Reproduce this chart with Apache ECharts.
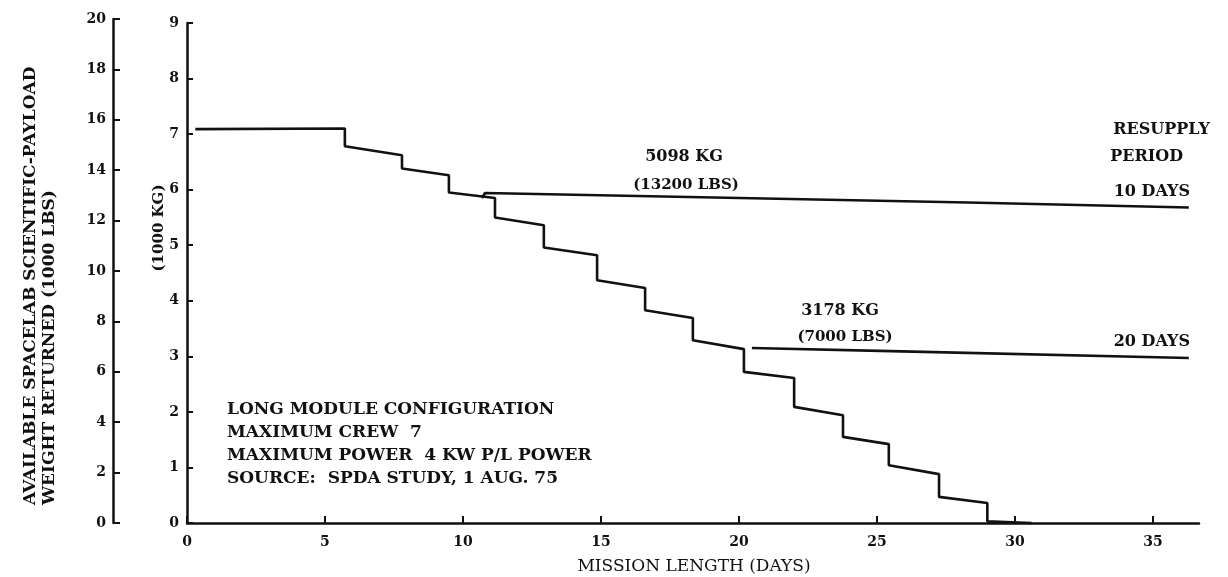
<!DOCTYPE html>
<html>
<head>
<meta charset="utf-8">
<script src="https://cdn.jsdelivr.net/npm/echarts@6/dist/echarts.min.js"></script>
<style>
html,body{margin:0;padding:0;background:#fff;}
#chart{width:1228px;height:577px;}
</style>
</head>
<body>
<div id="chart"></div>
<script>
// ---- data (mission length in days, available weight in 1000 kg) ----
const xTicks = [0, 5, 10, 15, 20, 25, 30, 35];
const kgTicks = [0, 1, 2, 3, 4, 5, 6, 7, 8, 9];
const lbsTicks = [0, 2, 4, 6, 8, 10, 12, 14, 16, 18, 20];

const stepDays = [0.3, 5.72, 5.72, 7.79, 7.79, 9.49, 9.49, 11.16, 11.16, 12.93, 12.93, 14.86, 14.86, 16.6, 16.6, 18.33, 18.33, 20.18, 20.18, 22.0, 22.0, 23.77, 23.77, 25.43, 25.43, 27.25, 27.25, 29.0, 29.0, 30.6];
const stepKg   = [7.09, 7.1, 6.78, 6.62, 6.38, 6.26, 5.95, 5.85, 5.50, 5.36, 4.96, 4.82, 4.37, 4.23, 3.83, 3.69, 3.29, 3.13, 2.72, 2.61, 2.09, 1.94, 1.55, 1.42, 1.04, 0.88, 0.47, 0.36, 0.03, 0.0];

const tenDayDays = [10.69, 10.8, 28.3, 36.3];
const tenDayKg   = [5.85, 5.94, 5.77, 5.68];

const twentyDayDays = [20.47, 25.9, 36.3];
const twentyDayKg   = [3.15, 3.09, 2.97];

const notes = ['LONG MODULE CONFIGURATION', 'MAXIMUM CREW  7', 'MAXIMUM POWER  4 KW P/L POWER', 'SOURCE:  SPDA STUDY, 1 AUG. 75'];

function pairs(xs, ys) { return xs.map((x, i) => [x, ys[i]]); }

const ink = '#111';
const serif = '"DejaVu Serif", "Liberation Serif", serif';

const chart = echarts.init(document.getElementById('chart'));
chart.setOption({
  animation: false,
  backgroundColor: '#fff',
  grid: [
    { left: 187, right: 29, top: 23, bottom: 54 },
    { left: 113, width: 1, top: 19, bottom: 54 }
  ],
  xAxis: [
    {
      gridIndex: 0, type: 'value', min: 0, max: 36.67,
      axisLine: { show: true, lineStyle: { color: ink, width: 2.5 } },
      axisTick: { show: true, inside: true, length: 7, lineStyle: { color: ink, width: 2 }, customValues: xTicks },
      axisLabel: { color: ink, fontFamily: serif, fontWeight: 'bold', fontSize: 14, margin: 12, customValues: xTicks },
      splitLine: { show: false }
    },
    { gridIndex: 1, type: 'value', min: 0, max: 1, show: false }
  ],
  yAxis: [
    {
      gridIndex: 0, type: 'value', min: 0, max: 9, interval: 1,
      axisLine: { show: true, lineStyle: { color: ink, width: 2.5 } },
      axisTick: { show: true, inside: true, length: 6, lineStyle: { color: ink, width: 2 }, customValues: kgTicks },
      axisLabel: { color: ink, fontFamily: serif, fontWeight: 'bold', fontSize: 14, margin: 8, customValues: kgTicks },
      splitLine: { show: false }
    },
    {
      gridIndex: 1, type: 'value', min: 0, max: 20, interval: 2,
      axisLine: { show: true, lineStyle: { color: ink, width: 2.5 } },
      axisTick: { show: true, inside: true, length: 7, lineStyle: { color: ink, width: 2 } },
      axisLabel: { color: ink, fontFamily: serif, fontWeight: 'bold', fontSize: 14, margin: 7 },
      splitLine: { show: false }
    }
  ],
  series: [
    {
      type: 'line', xAxisIndex: 0, yAxisIndex: 0, data: pairs(stepDays, stepKg),
      symbol: 'none', lineStyle: { color: ink, width: 2.6 }, clip: false
    },
    {
      type: 'line', xAxisIndex: 0, yAxisIndex: 0, data: pairs(tenDayDays, tenDayKg),
      symbol: 'none', lineStyle: { color: ink, width: 2.6 }
    },
    {
      type: 'line', xAxisIndex: 0, yAxisIndex: 0, data: pairs(twentyDayDays, twentyDayKg),
      symbol: 'none', lineStyle: { color: ink, width: 2.6 }
    }
  ],
  graphic: [
    { type: 'text', x: 31, y: 505, rotation: Math.PI / 2, style: { text: 'AVAILABLE SPACELAB SCIENTIFIC-PAYLOAD', font: 'bold 17px ' + serif, fill: ink, align: 'left', verticalAlign: 'middle' } },
    { type: 'text', x: 50, y: 505, rotation: Math.PI / 2, style: { text: 'WEIGHT RETURNED (1000 LBS)', font: 'bold 17px ' + serif, fill: ink, align: 'left', verticalAlign: 'middle' } },
    { type: 'text', x: 159, y: 228, rotation: Math.PI / 2, style: { text: '(1000 KG)', font: 'bold 15px ' + serif, fill: ink, align: 'center', verticalAlign: 'middle' } },
    { type: 'text', x: 694, y: 567, style: { text: 'MISSION LENGTH (DAYS)', font: '17px ' + serif, fill: ink, align: 'center', verticalAlign: 'middle' } },
    { type: 'text', x: 227, y: 410, style: { text: notes[0], font: 'bold 17px ' + serif, fill: ink, verticalAlign: 'middle' } },
    { type: 'text', x: 227, y: 433, style: { text: notes[1], font: 'bold 17px ' + serif, fill: ink, verticalAlign: 'middle' } },
    { type: 'text', x: 227, y: 456, style: { text: notes[2], font: 'bold 17px ' + serif, fill: ink, verticalAlign: 'middle' } },
    { type: 'text', x: 227, y: 479, style: { text: notes[3], font: 'bold 17px ' + serif, fill: ink, verticalAlign: 'middle' } },
    { type: 'text', x: 684, y: 157, style: { text: '5098 KG', font: 'bold 16px ' + serif, fill: ink, align: 'center', verticalAlign: 'middle' } },
    { type: 'text', x: 686, y: 185, style: { text: '(13200 LBS)', font: 'bold 15px ' + serif, fill: ink, align: 'center', verticalAlign: 'middle' } },
    { type: 'text', x: 840, y: 311, style: { text: '3178 KG', font: 'bold 16px ' + serif, fill: ink, align: 'center', verticalAlign: 'middle' } },
    { type: 'text', x: 845, y: 337, style: { text: '(7000 LBS)', font: 'bold 15px ' + serif, fill: ink, align: 'center', verticalAlign: 'middle' } },
    { type: 'text', x: 1210, y: 130, style: { text: 'RESUPPLY', font: 'bold 16px ' + serif, fill: ink, align: 'right', verticalAlign: 'middle' } },
    { type: 'text', x: 1183, y: 157, style: { text: 'PERIOD', font: 'bold 16px ' + serif, fill: ink, align: 'right', verticalAlign: 'middle' } },
    { type: 'text', x: 1190, y: 192, style: { text: '10 DAYS', font: 'bold 16px ' + serif, fill: ink, align: 'right', verticalAlign: 'middle' } },
    { type: 'text', x: 1190, y: 342, style: { text: '20 DAYS', font: 'bold 16px ' + serif, fill: ink, align: 'right', verticalAlign: 'middle' } }
  ]
});
</script>
</body>
</html>
